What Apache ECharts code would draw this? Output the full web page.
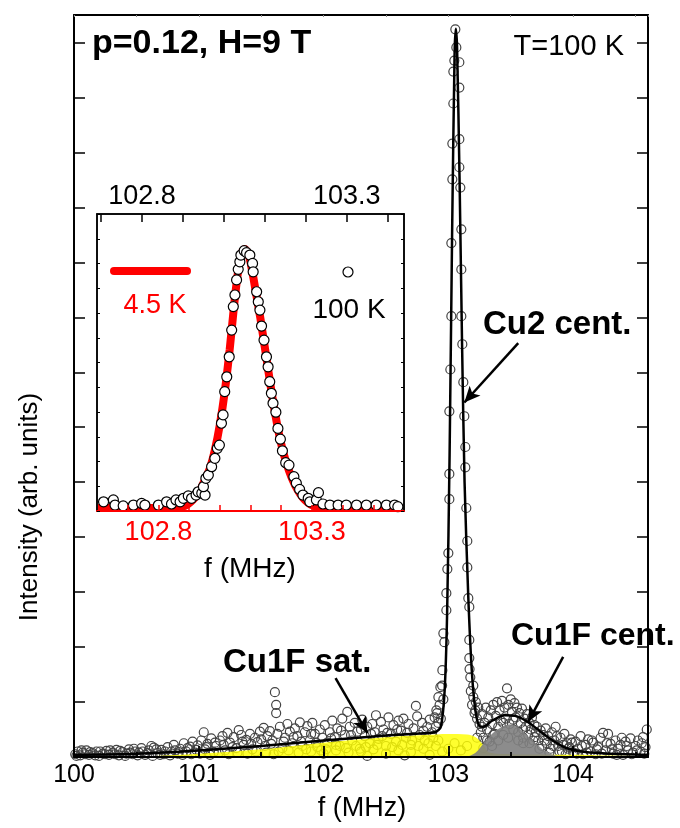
<!DOCTYPE html>
<html>
<head>
<meta charset="utf-8">
<script src="https://cdn.jsdelivr.net/npm/echarts@6/dist/echarts.min.js"></script>
<style>
html,body{margin:0;padding:0;background:#fff;}
#chart{width:680px;height:828px;}
</style>
</head>
<body>
<div id="chart"></div>
<script>
// ---------- DATA ----------
const fitCurve = [
  [100.0,0.04],[100.5,0.06],[101.0,0.12],[101.5,0.2],[102.0,0.3],[102.5,0.39],[102.8,0.43],[102.9,0.46],
  [102.94,0.55],[102.97,1.2],[102.99,2.6],[103.01,5.5],[103.03,9.5],[103.05,12.8],[103.06,13.25],
  [103.07,12.9],[103.09,10.5],[103.11,7.5],[103.13,5.0],[103.16,2.9],[103.19,1.5],[103.22,0.8],
  [103.25,0.56],[103.28,0.55],[103.35,0.66],[103.45,0.76],[103.55,0.74],[103.65,0.62],[103.75,0.44],
  [103.85,0.28],[103.95,0.16],[104.1,0.09],[104.3,0.06],[104.6,0.04]
];
const cu1fSat = [
  [100.5,0.0],[101.0,0.06],[101.5,0.14],[102.0,0.26],[102.5,0.36],[102.8,0.4],[103.0,0.42],[103.15,0.41],
  [103.22,0.36],[103.28,0.22],[103.33,0.08],[103.5,0.05],[104.0,0.04],[104.5,0.02],[104.6,0.02]
];
const cu1fCent = [
  [103.15,0.0],[103.22,0.08],[103.3,0.3],[103.38,0.48],[103.45,0.57],[103.5,0.59],[103.55,0.55],
  [103.62,0.42],[103.7,0.25],[103.78,0.1],[103.85,0.03],[103.9,0.0]
];
const spectrum100K = [
  [100.01,0.05],[100.03,0.1],[100.05,0.03],[100.07,0.08],[100.1,0.12],[100.12,0.04],[100.15,0.07],[100.18,0.1],
  [100.2,0.02],[100.23,0.06],[100.26,0.11],[100.28,0.04],[100.31,0.08],[100.34,0.13],[100.36,0.03],[100.39,0.09],
  [100.42,0.06],[100.44,0.14],[100.47,0.05],[100.49,0.1],
  [100.52,0.08],[100.54,0.16],[100.57,0.04],[100.6,0.12],[100.62,0.2],[100.64,0.17],[100.67,0.07],[100.7,0.13],
  [100.72,0.05],[100.75,0.18],[100.78,0.1],[100.8,0.22],[100.83,0.06],[100.85,0.15],[100.88,0.25],[100.9,0.1],
  [100.93,0.19],[100.95,0.28],[100.97,0.08],[100.99,0.21],
  [101.02,0.3],[101.04,0.45],[101.05,0.14],[101.07,0.24],[101.1,0.34],[101.12,0.09],[101.14,0.2],[101.17,0.3],
  [101.19,0.38],[101.21,0.12],[101.23,0.44],[101.25,0.26],[101.28,0.36],[101.3,0.16],[101.32,0.49],[101.34,0.4],
  [101.36,0.22],[101.38,0.31],[101.41,0.42],[101.43,0.14],[101.45,0.35],[101.47,0.27],[101.49,0.46],
  [101.52,0.53],[101.53,0.2],[101.55,0.38],[101.57,0.47],[101.59,0.3],[101.61,1.18],[101.62,0.95],[101.62,0.8],
  [101.63,0.42],[101.65,0.55],[101.67,0.16],[101.69,0.35],[101.71,0.6],[101.73,0.46],[101.75,0.25],[101.77,0.52],
  [101.79,0.38],[101.81,0.63],[101.83,0.2],[101.85,0.45],[101.87,0.56],[101.89,0.3],[101.91,0.62],[101.93,0.42],
  [101.95,0.18],[101.97,0.5],[101.99,0.35],
  [102.01,0.58],[102.03,0.26],[102.05,0.45],[102.07,0.66],[102.09,0.36],[102.11,0.52],[102.13,0.2],[102.15,0.7],
  [102.17,0.4],[102.19,0.82],[102.21,0.55],[102.23,0.3],[102.25,0.62],[102.27,0.46],[102.29,0.15],[102.31,0.68],
  [102.33,0.38],[102.35,0.55],[102.37,0.25],[102.39,0.6],[102.41,0.45],[102.42,0.76],[102.44,0.33],[102.46,0.64],
  [102.48,0.5],[102.5,0.2],
  [102.52,0.72],[102.54,0.42],[102.56,0.58],[102.58,0.28],[102.6,0.66],[102.62,0.48],[102.64,0.7],[102.66,0.35],
  [102.68,0.6],[102.7,0.22],[102.72,0.52],[102.74,0.93],[102.75,0.74],[102.77,0.4],[102.79,0.62],[102.81,0.3],
  [102.83,0.55],[102.85,0.68],[102.87,0.45],[102.89,0.72],
  [101.6,0.05],[101.8,0.08],[101.9,0.1],[102.0,0.06],[102.1,0.12],[102.2,0.08],[102.3,0.1],[102.4,0.14],
  [102.5,0.06],[102.6,0.12],[102.7,0.09],[102.8,0.15],[102.9,0.2],[102.95,0.1],[103.0,0.15],[103.05,0.25],
  [103.1,0.12],[103.15,0.2],[102.35,0.02],[102.65,0.03],[102.85,0.04],
  [102.9,0.55],[102.91,0.8],[102.92,0.62],[102.93,0.95],[102.94,0.7],[102.95,1.3],[102.96,1.05],
  [103.17,1.6],[103.18,1.2],[103.19,0.95],[103.2,1.3],[103.21,0.8],[103.22,1.0],[103.23,0.7],[103.24,0.9],[103.25,0.6],
  [103.26,0.45],[103.27,0.78],[103.28,0.35],[103.29,0.62],[103.3,0.9],[103.31,0.5],[103.32,0.72],[103.33,0.28],
  [103.34,0.85],[103.35,0.6],[103.36,0.95],[103.37,0.42],[103.38,0.75],[103.39,1.0],[103.4,0.55],[103.41,0.85],
  [103.42,0.66],[103.43,1.02],[103.44,0.4],[103.45,0.9],[103.46,0.7],[103.47,1.25],[103.48,0.95],[103.49,0.6],
  [103.5,1.05],[103.51,0.82],[103.52,0.5],[103.53,0.98],[103.54,0.72],[103.55,0.9],[103.56,0.45],[103.57,0.8],
  [103.58,0.62],[103.59,0.88],[103.6,0.35],[103.61,0.7],[103.62,0.55],[103.63,0.78],[103.64,0.4],[103.65,0.62],
  [103.66,0.5],[103.67,0.72],[103.68,0.3],[103.69,0.58],[103.7,0.45],[103.28,0.16],[103.35,0.2],[103.6,0.25],
  [103.71,0.55],[103.72,0.3],[103.74,0.48],[103.75,0.2],[103.76,0.4],[103.78,0.52],[103.79,0.25],[103.8,0.38],
  [103.82,0.15],[103.83,0.45],[103.85,0.3],[103.86,0.55],[103.88,0.2],[103.9,0.35],[103.91,0.1],[103.93,0.42],
  [103.95,0.25],[103.96,0.15],[103.98,0.32],[104.0,0.08],
  [104.02,0.28],[104.04,0.15],[104.06,0.38],[104.08,0.05],[104.1,0.22],[104.12,0.32],[104.14,0.1],[104.16,0.26],
  [104.18,0.05],[104.2,0.18],[104.22,0.35],[104.24,0.44],[104.26,0.12],[104.28,0.42],[104.3,0.24],[104.32,0.06],
  [104.34,0.3],[104.36,0.15],[104.38,0.22],[104.4,0.04],[104.42,0.28],[104.44,0.12],[104.46,0.34],[104.48,0.08],
  [104.5,0.2],[104.52,0.3],[104.54,0.1],[104.56,0.36],[104.58,0.18],[104.59,0.5],
  [100.02,0.02],[100.06,0.12],[100.09,0.05],[100.13,0.09],[100.17,0.03],[100.21,0.1],[100.25,0.05],[100.29,0.12],
  [100.33,0.05],[100.37,0.11],[100.41,0.02],[100.45,0.08],[100.48,0.15],
  [100.51,0.03],[100.55,0.1],[100.59,0.07],[100.63,0.02],[100.66,0.14],[100.69,0.04],[100.73,0.1],[100.77,0.03],
  [100.81,0.12],[100.84,0.09],[100.87,0.04],[100.91,0.16],[100.94,0.05],[100.98,0.13],
  [101.01,0.06],[101.06,0.18],[101.09,0.04],[101.13,0.26],[101.16,0.08],[101.2,0.22],[101.24,0.05],[101.27,0.18],
  [101.31,0.08],[101.35,0.28],[101.39,0.06],[101.42,0.24],[101.46,0.1],[101.5,0.32],
  [101.54,0.08],[101.58,0.24],[101.64,0.1],[101.68,0.28],[101.72,0.12],[101.76,0.36],[101.82,0.28],[101.86,0.14],
  [101.9,0.42],[101.94,0.26],[101.98,0.12],
  [102.02,0.14],[102.06,0.34],[102.1,0.22],[102.14,0.48],[102.18,0.16],[102.22,0.4],[102.26,0.2],[102.3,0.5],
  [102.34,0.18],[102.38,0.42],[102.43,0.22],[102.47,0.38],
  [102.51,0.44],[102.55,0.18],[102.59,0.5],[102.63,0.22],[102.67,0.44],[102.71,0.3],[102.76,0.2],[102.8,0.48],
  [102.84,0.25],[102.88,0.35],[102.92,0.3],
  [103.23,0.35],[103.27,0.55],[103.31,0.3],[103.36,0.4],[103.4,0.3],[103.44,0.62],[103.48,0.35],[103.52,0.68],
  [103.56,0.3],[103.6,0.5],[103.65,0.25],[103.69,0.36],
  [103.73,0.15],[103.77,0.3],[103.81,0.08],[103.84,0.2],[103.87,0.38],[103.89,0.1],[103.92,0.22],[103.94,0.05],
  [103.97,0.18],[103.99,0.26],[104.03,0.06],[104.07,0.2],[104.11,0.08],[104.15,0.3],[104.19,0.14],[104.23,0.06],
  [104.27,0.25],[104.31,0.14],[104.35,0.04],[104.39,0.35],[104.43,0.2],[104.47,0.05],[104.51,0.12],[104.55,0.25],
  [104.57,0.06],
  [103.056,13.24],[103.064,12.91],[103.048,12.67],[103.088,12.64],[103.04,12.47],[103.088,12.18],[103.04,11.89],
  [103.088,11.24],[103.032,11.16],[103.088,10.73],[103.032,10.51],[103.096,10.36],[103.104,9.6],[103.024,9.35],
  [103.104,8.87],[103.024,8.02],[103.104,8.02],[103.112,7.51],[103.016,7.05],[103.12,6.82],[103.008,6.29],
  [103.128,6.2],[103.136,5.64],[103.136,5.27],[103.008,5.15],[103.008,4.69],[103.144,4.53],[103.152,3.93],
  [103.0,3.71],[103.152,3.45],[102.992,3.42],[103.16,2.89],[102.984,2.98],[103.168,2.73],[102.984,2.67],
  [102.96,2.25],[102.968,2.09],[102.952,1.58],[102.936,1.27],[102.92,1.09],[102.904,0.85],
  [103.168,2.13],[103.168,1.8],[103.176,1.45],[103.2,1.09],[103.216,0.85]
];
const inset100K = [
  [102.706,0.034],[102.73,0.041],[102.734,0.022],[102.754,0.019],[102.779,0.022],[102.799,0.028],[102.807,0.022],
  [102.84,0.022],[102.86,0.034],[102.872,0.026],[102.883,0.041],[102.893,0.034],[102.901,0.047],[102.913,0.056],
  [102.921,0.047],[102.932,0.059],[102.937,0.071],[102.946,0.066],[102.954,0.059],[102.95,0.09],[102.956,0.121],
  [102.962,0.133],[102.97,0.164],[102.978,0.195],[102.984,0.232],[102.989,0.244],[102.994,0.325],[102.998,0.356],
  [103.002,0.442],[103.007,0.497],[103.013,0.571],[103.019,0.67],[103.023,0.757],[103.027,0.8],[103.031,0.856],
  [103.035,0.895],[103.039,0.923],[103.0415,0.948],[103.0495,0.964],[103.0554,0.957],[103.0634,0.948],[103.07,0.917],
  [103.0715,0.886],[103.08,0.812],[103.084,0.775],[103.088,0.744],[103.092,0.685],[103.098,0.633],[103.104,0.571],
  [103.108,0.534],[103.112,0.479],[103.116,0.436],[103.12,0.399],[103.127,0.366],[103.132,0.306],[103.138,0.266],
  [103.143,0.223],[103.151,0.179],[103.159,0.17],[103.171,0.127],[103.177,0.103],[103.185,0.08],[103.193,0.059],
  [103.206,0.047],[103.21,0.034],[103.226,0.041],[103.231,0.068],[103.242,0.026],[103.259,0.022],[103.279,0.022],
  [103.299,0.022],[103.324,0.022],[103.348,0.022],[103.372,0.022],[103.397,0.022],[103.417,0.022],[103.425,0.016]
];
const inset45K = [
  [102.603,0.011],[102.7,0.013],[102.774,0.011],[102.85,0.014],[102.887,0.019],[102.926,0.059],[102.948,0.107],
  [102.968,0.159],[102.984,0.226],[103.0,0.319],[103.016,0.441],[103.032,0.596],[103.045,0.744],[103.058,0.874],
  [103.071,0.956],[103.081,0.97],[103.094,0.948],[103.106,0.885],[103.119,0.8],[103.132,0.715],[103.148,0.596],
  [103.165,0.467],[103.181,0.356],[103.197,0.263],[103.219,0.17],[103.245,0.096],[103.277,0.041],[103.316,0.015],
  [103.419,0.011],[103.594,0.011]
];
const insetTopLabels = [102.8, 103.3];
const insetTopTicks = [102.7, 102.8, 102.9, 103.0, 103.1, 103.2, 103.3, 103.4];
const insetBottomLabels = [102.8, 103.3];
const insetBottomTicks = [102.7, 102.8, 102.9, 103.0, 103.1, 103.2, 103.3, 103.4, 103.5];
const arrowCu2 = [[103.56,7.53],[103.128,6.45]];
const arrowSat = [[102.096,1.436],[102.352,0.436]];
const arrowCent = [[103.92,1.82],[103.64,0.64]];

// ---------- CHART ----------
const FF = '"Liberation Sans", Arial, Helvetica, sans-serif';
const chart = echarts.init(document.getElementById('chart'), null, {renderer:'canvas'});
const blk = '#000';
const intLabel = v => (Math.abs(v - Math.round(v)) < 1e-6 ? String(Math.round(v)) : '');

const option = {
  animation: false,
  backgroundColor: '#fff',
  grid: [
    {left:74, right:32, top:15, bottom:71, show:false},
    {left:97, width:307, top:214, height:297, show:true, backgroundColor:'#fff', borderColor:'#000', borderWidth:1.5}
  ],
  xAxis: [
    {gridIndex:0, type:'value', min:100, max:104.6, interval:1, position:'bottom', z:10,
     axisLine:{show:true, onZero:false, lineStyle:{color:blk, width:2}},
     axisTick:{show:true, inside:true, length:11, lineStyle:{color:blk, width:1.8}},
     axisLabel:{show:true, formatter:intLabel, fontSize:25, color:blk, fontFamily:FF, margin:6},
     splitLine:{show:false}},
    {gridIndex:0, type:'value', min:100, max:104.6, interval:0.5, position:'top', z:10,
     axisLine:{show:true, onZero:false, lineStyle:{color:blk, width:2}},
     axisTick:{show:true, inside:true, length:2, lineStyle:{color:'#888', width:1}},
     axisLabel:{show:false}, splitLine:{show:false}},
    {gridIndex:1, type:'value', min:102.6, max:103.6, position:'bottom', z:12,
     axisLine:{show:true, onZero:false, lineStyle:{color:'#ff0000', width:2}},
     axisTick:{show:true, inside:true, length:6, customValues: insetBottomTicks, lineStyle:{color:'#ff0000', width:1.5}},
     axisLabel:{show:true, customValues: insetBottomLabels, formatter:v=>v.toFixed(1), fontSize:27, color:'#ff0000', fontFamily:FF, margin:8},
     splitLine:{show:false}},
    {gridIndex:1, type:'value', min:102.69, max:103.44, position:'top', z:12,
     axisLine:{show:true, onZero:false, lineStyle:{color:blk, width:1.5}},
     axisTick:{show:true, inside:true, length:8, customValues: insetTopTicks, lineStyle:{color:blk, width:1.5}},
     axisLabel:{show:true, customValues: insetTopLabels, formatter:v=>v.toFixed(1), fontSize:27, color:blk, fontFamily:FF, margin:4},
     splitLine:{show:false}},
    {gridIndex:0, type:'value', min:100, max:104.6, interval:0.5, position:'bottom', z:10,
     axisLine:{show:false, onZero:false},
     axisTick:{show:true, inside:true, length:5, lineStyle:{color:blk, width:1.8}},
     axisLabel:{show:false}, splitLine:{show:false}}
  ],
  yAxis: [
    {gridIndex:0, type:'value', min:0, max:13.5, interval:1, position:'left', z:10,
     axisLine:{show:true, onZero:false, lineStyle:{color:blk, width:2}},
     axisTick:{show:true, inside:true, length:11, lineStyle:{color:blk, width:1.5}},
     axisLabel:{show:false}, splitLine:{show:false}},
    {gridIndex:0, type:'value', min:0, max:13.5, interval:1, position:'right', z:10,
     axisLine:{show:true, onZero:false, lineStyle:{color:blk, width:2}},
     axisTick:{show:true, inside:true, length:11, lineStyle:{color:blk, width:1.5}},
     axisLabel:{show:false}, splitLine:{show:false}},
    {gridIndex:1, type:'value', min:0, max:1.1, interval:1.1/12, position:'left', z:12,
     axisLine:{show:true, onZero:false, lineStyle:{color:blk, width:1.5}},
     axisTick:{show:true, inside:true, length:3, lineStyle:{color:blk, width:1}},
     axisLabel:{show:false}, splitLine:{show:false}},
    {gridIndex:1, type:'value', min:0, max:1.1, interval:1.1/12, position:'right', z:12,
     axisLine:{show:true, onZero:false, lineStyle:{color:blk, width:1.5}},
     axisTick:{show:true, inside:true, length:3, lineStyle:{color:blk, width:1}},
     axisLabel:{show:false}, splitLine:{show:false}}
  ],
  series: [
    {type:'scatter', name:'100 K', xAxisIndex:0, yAxisIndex:0, data:spectrum100K, symbol:'circle', symbolSize:9,
     itemStyle:{color:'rgba(0,0,0,0)', borderColor:'#444', borderWidth:1.2, opacity:1}, z:2},
    {type:'line', name:'Cu1F sat.', xAxisIndex:0, yAxisIndex:0, data:cu1fSat, showSymbol:false, smooth:0.3,
     lineStyle:{width:0}, areaStyle:{color:'#ffff00', opacity:0.82}, z:3},
    {type:'line', name:'Cu1F cent.', xAxisIndex:0, yAxisIndex:0, data:cu1fCent, showSymbol:false, smooth:0.3,
     lineStyle:{width:0}, areaStyle:{color:'#808080', opacity:0.9}, z:4},
    {type:'line', name:'fit', xAxisIndex:0, yAxisIndex:0, data:fitCurve, showSymbol:false, smooth:0.25,
     lineStyle:{color:'#000', width:2.5}, z:5,
     markLine:{silent:true, symbol:['none','arrow'], symbolSize:[11,16], label:{show:false},
       lineStyle:{color:'#000', width:2.5, type:'solid'},
       data:[
         [{coord:arrowCu2[0]},{coord:arrowCu2[1]}],
         [{coord:arrowSat[0]},{coord:arrowSat[1]}],
         [{coord:arrowCent[0]},{coord:arrowCent[1]}]
       ]}},
    {type:'line', name:'4.5 K', xAxisIndex:2, yAxisIndex:2, data:inset45K, showSymbol:false, smooth:0.3,
     lineStyle:{color:'#ff0000', width:8}, z:10, clip:true},
    {type:'scatter', name:'100 K inset', xAxisIndex:3, yAxisIndex:2, data:inset100K, symbol:'circle', symbolSize:10,
     itemStyle:{color:'#fff', borderColor:'#000', borderWidth:1.2, opacity:1}, z:11, clip:true}
  ],
  graphic: [
    {type:'text', x:92, y:44, style:{text:'p=0.12, H=9 T', font:'bold 34px '+FF, fill:'#000', align:'left', verticalAlign:'middle'}},
    {type:'text', x:624, y:47, style:{text:'T=100 K', font:'29px '+FF, fill:'#000', align:'right', verticalAlign:'middle'}},
    {type:'text', x:483, y:325, style:{text:'Cu2 cent.', font:'bold 33px '+FF, fill:'#000', align:'left', verticalAlign:'middle'}},
    {type:'text', x:223, y:663, style:{text:'Cu1F sat.', font:'bold 33px '+FF, fill:'#000', align:'left', verticalAlign:'middle'}},
    {type:'text', x:511, y:636, style:{text:'Cu1F cent.', font:'bold 32px '+FF, fill:'#000', align:'left', verticalAlign:'middle'}},
    {type:'text', x:362, y:809, style:{text:'f (MHz)', font:'27px '+FF, fill:'#000', align:'center', verticalAlign:'middle'}},
    {type:'text', x:30, y:507, rotation:Math.PI/2, style:{text:'Intensity (arb. units)', font:'26px '+FF, fill:'#000', align:'center', verticalAlign:'middle'}},
    {type:'text', x:250, y:569, style:{text:'f (MHz)', font:'28px '+FF, fill:'#000', align:'center', verticalAlign:'middle'}},
    {type:'line', shape:{x1:114, y1:271, x2:187, y2:271}, style:{stroke:'#ff0000', lineWidth:8, lineCap:'round'}, z:20},
    {type:'text', x:155, y:306, style:{text:'4.5 K', font:'27px '+FF, fill:'#ff0000', align:'center', verticalAlign:'middle'}, z:20},
    {type:'circle', shape:{cx:348, cy:272, r:5}, style:{fill:'#fff', stroke:'#000', lineWidth:1.2}, z:20},
    {type:'text', x:349, y:310, style:{text:'100 K', font:'28px '+FF, fill:'#000', align:'center', verticalAlign:'middle'}, z:20}
  ]
};
chart.setOption(option);
</script>
</body>
</html>
